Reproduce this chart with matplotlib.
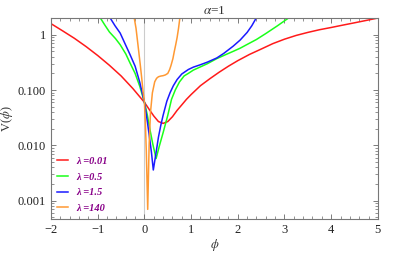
import numpy as np
import matplotlib
matplotlib.use("Agg")
import matplotlib.pyplot as plt
from matplotlib.ticker import FixedLocator, FixedFormatter, MultipleLocator, LogLocator, NullFormatter

# values
red_x = [-2.0, -1.75, -1.5, -1.25, -1.0, -0.75, -0.5, -0.25, 0.0, 0.1, 0.2, 0.3, 0.4, 0.5, 0.6, 0.7,
         0.8, 0.9, 1.0, 1.2, 1.4, 1.6, 1.8, 2.0, 2.25, 2.5, 2.75, 3.0, 3.25, 3.5, 3.75, 4.0, 4.25, 4.5, 4.75, 5.0]
red_v = [1.58, 1.17, 0.86, 0.61, 0.42, 0.28, 0.18, 0.107, 0.060, 0.045, 0.034, 0.027, 0.025, 0.027, 0.033, 0.043,
         0.054, 0.068, 0.083, 0.12, 0.16, 0.21, 0.27, 0.34, 0.44, 0.55, 0.69, 0.83, 0.97, 1.10, 1.23, 1.35, 1.49,
         1.64, 1.81, 2.0]

green_x = [-0.95, -0.85, -0.75, -0.62, -0.52, -0.4, -0.31, -0.2, -0.1, 0.0, 0.06, 0.12, 0.18, 0.25, 0.32, 0.4,
           0.5, 0.58, 0.66, 0.75, 0.85, 0.94, 1.05, 1.19, 1.35, 1.55, 1.75, 1.9, 2.05, 2.19, 2.4, 2.6, 2.85, 3.1]
green_v = [2.04, 1.5, 1.12, 0.85, 0.66, 0.45, 0.31, 0.20, 0.117, 0.060, 0.036, 0.019, 0.0105, 0.0058, 0.0098, 0.017,
           0.035, 0.068, 0.10, 0.14, 0.18, 0.20, 0.23, 0.26, 0.30, 0.37, 0.44, 0.50, 0.57, 0.66, 0.82, 1.05, 1.45, 2.04]

blue_x = [-0.74, -0.63, -0.52, -0.42, -0.31, -0.2, -0.1, 0.0, 0.05, 0.1, 0.15, 0.19, 0.25, 0.3, 0.35, 0.4,
          0.48, 0.55, 0.62, 0.7, 0.8, 0.94, 1.05, 1.19, 1.35, 1.55, 1.7, 1.9, 2.05, 2.2, 2.3, 2.4]
blue_v = [2.04, 1.45, 1.07, 0.70, 0.44, 0.27, 0.138, 0.060, 0.032, 0.0158, 0.0075, 0.0036, 0.0075, 0.0141, 0.023, 0.035,
          0.063, 0.09, 0.12, 0.155, 0.195, 0.235, 0.26, 0.285, 0.32, 0.38, 0.46, 0.62, 0.80, 1.1, 1.45, 2.04]

orange_x = [-0.22, -0.18, -0.15, -0.12, -0.09, -0.06, -0.03, 0.0, 0.02, 0.04, 0.07, 0.09, 0.10, 0.13, 0.17,
            0.22, 0.26, 0.30, 0.35, 0.40, 0.45, 0.50, 0.54, 0.57, 0.61, 0.64, 0.67, 0.70, 0.73, 0.76]
orange_v = [2.04, 1.3, 0.79, 0.48, 0.29, 0.17, 0.095, 0.060, 0.025, 0.0079, 0.0007, 0.004, 0.010, 0.040, 0.089,
            0.141, 0.163, 0.174, 0.179, 0.182, 0.188, 0.20, 0.235, 0.28, 0.37, 0.50, 0.66, 0.89, 1.3, 2.04]

labels = ["λ =0.01", "λ =0.5", "λ =1.5", "λ =140"]
colors = ["#ff1a1a", "#1aff1a", "#1a1aff", "#ff9933"]

ytick_vals = [0.001, 0.01, 0.1, 1]
ytick_text = ["0.001", "0.010", "0.100", "1"]

plt.rcParams['font.family'] = ['Liberation Serif', 'DejaVu Serif']
plt.rcParams['mathtext.fontset'] = 'stix'

fig = plt.figure(figsize=(3.99, 2.54), dpi=100)
ax = fig.add_axes([0.128, 0.138, 0.819, 0.791])

ax.axvline(0, color="#cccccc", lw=0.8, zorder=0)

series = [(red_x, red_v), (green_x, green_v), (blue_x, blue_v), (orange_x, orange_v)]
for (xs, vs), c, lab in zip(series, colors, labels):
    ax.plot(xs, vs, color=c, lw=1.1, label=lab)

ax.set_yscale("log")
ax.set_xlim(-2, 5)
ax.set_ylim(0.00047, 2.0)

ax.xaxis.set_major_locator(MultipleLocator(1))
ax.xaxis.set_minor_locator(MultipleLocator(0.2))
ax.yaxis.set_major_locator(FixedLocator(ytick_vals))
ax.yaxis.set_major_formatter(FixedFormatter(ytick_text))
ax.yaxis.set_minor_locator(LogLocator(base=10, subs=np.arange(2, 10)))
ax.yaxis.set_minor_formatter(NullFormatter())

ax.tick_params(which="both", direction="in", top=True, right=True, colors="#666666",
               labelcolor="#222222", labelsize=9)
ax.tick_params(which="major", length=3.5, width=0.6)
ax.tick_params(which="minor", length=2, width=0.5)
for s in ax.spines.values():
    s.set_color("#777777")
    s.set_linewidth(0.8)

ax.set_xlabel("$\\phi$", fontsize=9, color="#333333", labelpad=1)
ax.set_ylabel("V($\\phi$)", fontsize=9, color="#333333", labelpad=2)
ax.set_title("$\\alpha$=1", fontsize=9.5, color="#333333", pad=3)

leg = ax.legend(loc="lower left", frameon=False, handlelength=1.0, handletextpad=0.8,
                labelspacing=0.6, borderaxespad=0.2,
                prop={"family": "Liberation Serif", "style": "italic", "weight": "bold", "size": 7.5})
for t in leg.get_texts():
    t.set_color("#880088")

fig.savefig("out.png", dpi=100)
